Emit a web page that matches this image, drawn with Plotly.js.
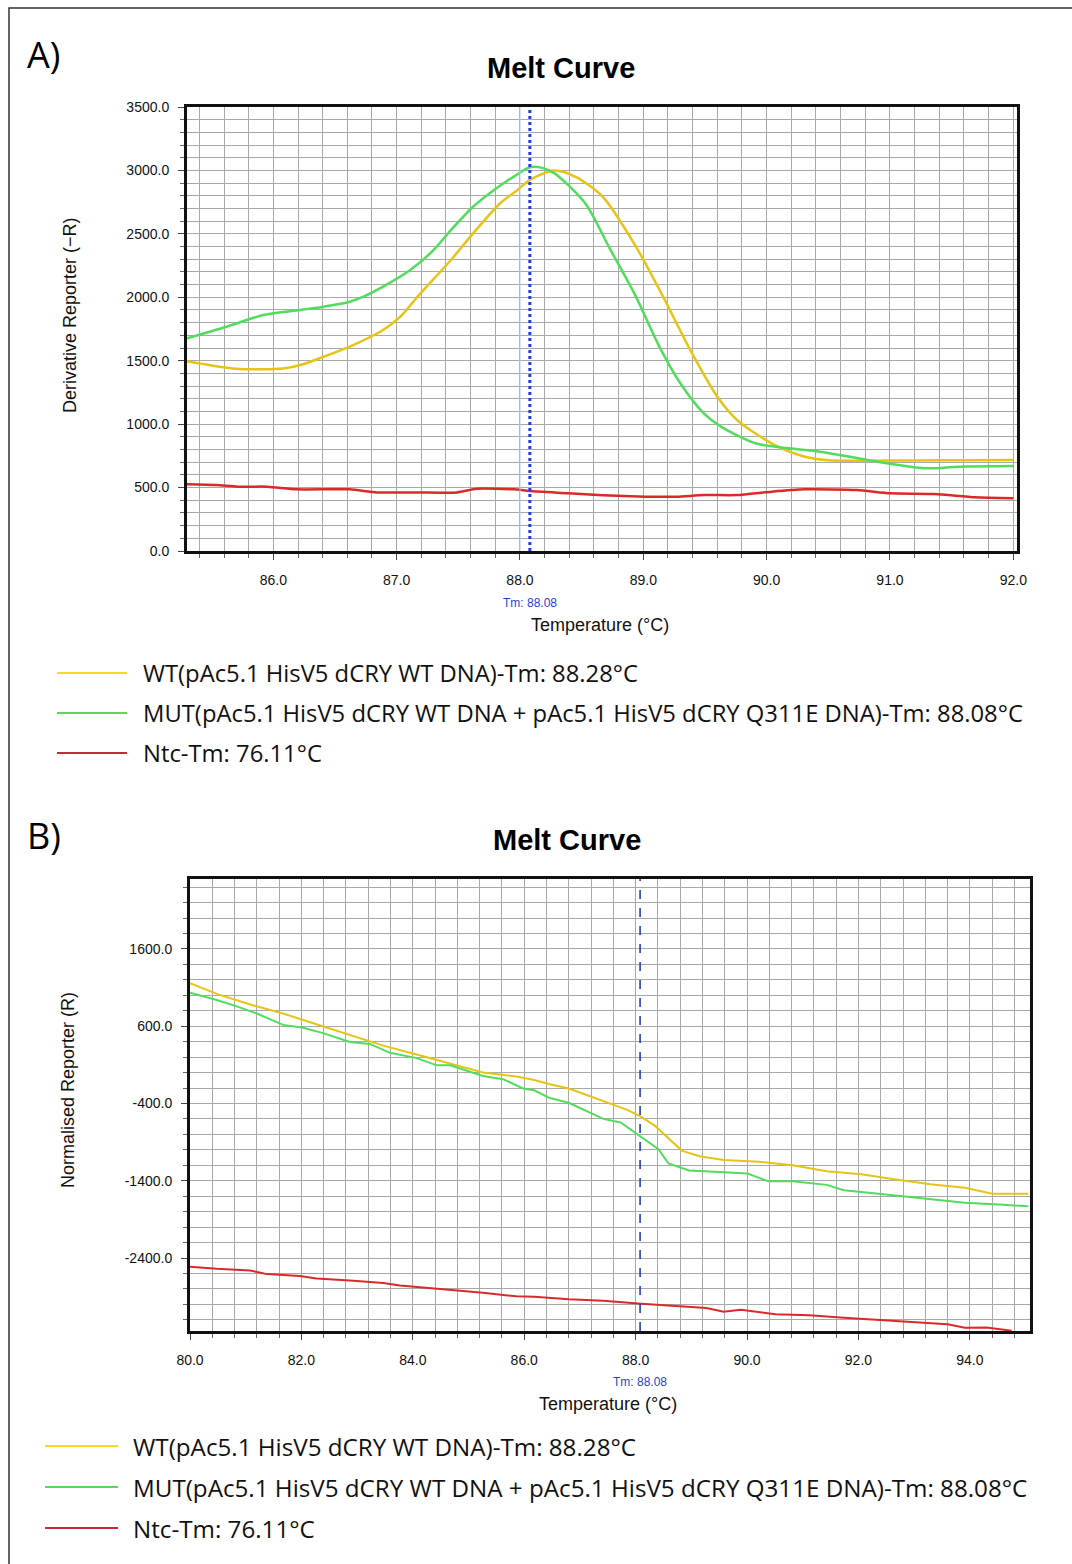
<!DOCTYPE html>
<html>
<head>
<meta charset="utf-8">
<script src="https://cdn.plot.ly/plotly-3.0.1.min.js"></script>
<style>
html,body{margin:0;padding:0;background:#fff;}
#chart{width:1072px;height:1564px;}
</style>
</head>
<body>
<div id="chart"></div>
<script>
// ---------- Panel A: derivative melt curve ----------
const aWtTemp  = [85.30,85.50,85.70,85.90,86.08,86.22,86.41,86.62,86.89,87.03,87.17,87.44,87.62,87.84,87.98,88.08,88.28,88.45,88.67,88.94,89.16,89.38,89.60,89.76,90.04,90.31,90.50,90.80,91.20,91.60,92.00];
const aWtVal   = [1495,1462,1436,1432,1438,1466,1532,1611,1742,1847,2005,2294,2504,2741,2846,2925,3000,2950,2793,2399,2005,1585,1216,1033,849,743,715,712,714,716,718];
const aMutTemp = [85.30,85.62,85.92,86.22,86.41,86.62,86.73,86.89,87.11,87.30,87.44,87.62,87.79,87.95,88.08,88.18,88.28,88.53,88.72,88.94,89.13,89.30,89.49,89.63,89.91,90.18,90.43,90.82,91.29,91.56,92.00];
const aMutVal  = [1677,1768,1860,1900,1926,1965,2005,2084,2215,2373,2530,2714,2846,2951,3025,3020,2977,2740,2399,2005,1611,1322,1085,980,849,810,783,717,652,665,670];
const aNtcTemp = [85.30,85.54,85.71,85.95,86.19,86.62,86.84,87.17,87.49,87.65,87.95,88.08,88.39,88.67,89.02,89.27,89.49,89.76,90.04,90.31,90.73,91.00,91.36,91.69,92.00];
const aNtcVal  = [526,520,507,507,486,486,462,462,462,491,486,472,455,439,428,428,441,441,468,486,481,455,449,423,415];
const aXTicks  = [86,87,88,89,90,91,92];
const aYTicks  = [0,500,1000,1500,2000,2500,3000,3500];

// ---------- Panel B: normalised reporter ----------
const bWtTemp  = [80.00,80.48,81.08,81.67,82.27,82.87,83.47,84.07,84.67,85.26,85.56,85.86,86.18,86.46,86.80,87.42,87.85,88.10,88.35,88.66,88.84,89.15,89.58,90.20,90.82,91.43,92.05,92.67,93.29,93.91,94.40,95.05];
const bWtVal   = [1158,1018,881,764,626,487,349,234,117,2,-25,-50,-95,-150,-206,-366,-483,-573,-690,-897,-1013,-1083,-1130,-1153,-1200,-1277,-1315,-1383,-1444,-1491,-1569,-1569];
const bMutTemp = [80.00,80.48,80.84,81.20,81.67,82.03,82.39,82.87,83.23,83.59,84.07,84.43,84.67,85.26,85.62,85.98,86.18,86.46,86.80,87.42,87.73,88.10,88.41,88.59,88.96,89.58,90.01,90.38,90.82,91.43,91.74,92.36,92.98,93.29,93.91,94.53,95.05];
const bMutVal  = [1032,940,857,764,617,579,511,396,371,256,187,94,94,-43,-85,-206,-229,-330,-391,-599,-645,-830,-991,-1176,-1268,-1291,-1306,-1407,-1407,-1453,-1523,-1569,-1615,-1639,-1685,-1707,-1730];
const bNtcTemp = [80.00,80.48,81.08,81.38,81.97,82.27,82.87,83.47,83.77,84.37,84.67,85.26,85.86,86.18,86.80,87.42,88.10,88.66,89.27,89.58,89.89,90.51,91.12,91.74,92.36,92.98,93.60,93.91,94.30,94.75];
const bNtcVal  = [-2514,-2540,-2562,-2608,-2631,-2664,-2691,-2724,-2756,-2793,-2806,-2850,-2895,-2900,-2932,-2954,-2992,-3015,-3047,-3094,-3070,-3126,-3140,-3173,-3200,-3233,-3256,-3303,-3300,-3340];
const bXTicks  = [80,82,84,86,88,90,92,94];
const bYTicks  = [-2400,-1400,-400,600,1600];

const tmLine = 88.08;
const legendLabels = [
  "WT(pAc5.1 HisV5 dCRY WT DNA)-Tm: 88.28°C",
  "MUT(pAc5.1 HisV5 dCRY WT DNA + pAc5.1 HisV5 dCRY Q311E DNA)-Tm: 88.08°C",
  "Ntc-Tm: 76.11°C"
];
const seriesColors = ["#e6c414","#52dc5e","#d92a2a"];
const legendColors = ["#f2dc1e","#5ed65e","#c8283a"];

// ---------- layout helpers ----------
const W = 1072, H = 1564;
const X = p => p / W;
const Y = p => 1 - p / H;

const traces = [
  {x:aWtTemp, y:aWtVal, xaxis:'x', yaxis:'y', mode:'lines', line:{color:seriesColors[0], width:2.5, shape:'spline', smoothing:0.8}},
  {x:aMutTemp, y:aMutVal, xaxis:'x', yaxis:'y', mode:'lines', line:{color:seriesColors[1], width:2.5, shape:'spline', smoothing:0.8}},
  {x:aNtcTemp, y:aNtcVal, xaxis:'x', yaxis:'y', mode:'lines', line:{color:seriesColors[2], width:2.5, shape:'spline', smoothing:0.6}},
  {x:bWtTemp, y:bWtVal, xaxis:'x2', yaxis:'y2', mode:'lines', line:{color:seriesColors[0], width:2}},
  {x:bMutTemp, y:bMutVal, xaxis:'x2', yaxis:'y2', mode:'lines', line:{color:seriesColors[1], width:2}},
  {x:bNtcTemp, y:bNtcVal, xaxis:'x2', yaxis:'y2', mode:'lines', line:{color:seriesColors[2], width:2}}
];

const tickFont = {family:'Liberation Sans, Arial, sans-serif', size:14, color:'#111'};
const gridCol = '#a8a8a8';
const fmt = v => v.toFixed(1);

function axis(domain, range, ticks, minorStep, anchor, standoff){
  return {
    domain: domain, range: range, anchor: anchor,
    tickmode:'array', tickvals: ticks, ticktext: ticks.map(fmt),
    ticks:'outside', ticklen:6, tickcolor:'#444', tickwidth:1,
    ticklabelstandoff: standoff,
    showgrid:true, gridcolor:gridCol, gridwidth:1,
    minor:{dtick:minorStep, tick0:ticks[0], showgrid:true, gridcolor:gridCol, gridwidth:1, ticks:'outside', ticklen:4, tickcolor:'#666'},
    showline:true, linecolor:'#111', linewidth:3, mirror:true,
    zeroline:false, tickfont:tickFont, fixedrange:true
  };
}

const annFont = 'Liberation Sans, Arial, sans-serif';
const legFont = 'Open Sans, Noto Sans, sans-serif';

const annotations = [
  {xref:'paper', yref:'paper', x:X(25), y:Y(55), xanchor:'left', yanchor:'middle', text:'A)', showarrow:false, font:{family:legFont, size:36, color:'#000'}},
  {xref:'paper', yref:'paper', x:X(25), y:Y(835), xanchor:'left', yanchor:'middle', text:'B)', showarrow:false, font:{family:legFont, size:36, color:'#000'}},
  {xref:'paper', yref:'paper', x:X(561), y:Y(68), xanchor:'center', yanchor:'middle', text:'<b>Melt Curve</b>', showarrow:false, font:{family:annFont, size:29, color:'#000'}},
  {xref:'paper', yref:'paper', x:X(567), y:Y(840), xanchor:'center', yanchor:'middle', text:'<b>Melt Curve</b>', showarrow:false, font:{family:annFont, size:29, color:'#000'}},
  {xref:'paper', yref:'paper', x:X(70), y:Y(315), xanchor:'center', yanchor:'middle', textangle:-90, text:'Derivative Reporter (−R)', showarrow:false, font:{family:annFont, size:18, color:'#111'}},
  {xref:'paper', yref:'paper', x:X(68), y:Y(1090), xanchor:'center', yanchor:'middle', textangle:-90, text:'Normalised Reporter (R)', showarrow:false, font:{family:annFont, size:18, color:'#111'}},
  {xref:'paper', yref:'paper', x:X(600), y:Y(625), xanchor:'center', yanchor:'middle', text:'Temperature (°C)', showarrow:false, font:{family:annFont, size:18, color:'#111'}},
  {xref:'paper', yref:'paper', x:X(608), y:Y(1404), xanchor:'center', yanchor:'middle', text:'Temperature (°C)', showarrow:false, font:{family:annFont, size:18, color:'#111'}},
  {xref:'x', yref:'paper', x:tmLine, y:Y(603), xanchor:'center', yanchor:'middle', text:'Tm: 88.08', showarrow:false, font:{family:annFont, size:12, color:'#1f3fd6'}},
  {xref:'x2', yref:'paper', x:tmLine, y:Y(1382), xanchor:'center', yanchor:'middle', text:'Tm: 88.08', showarrow:false, font:{family:annFont, size:12, color:'#1f3fd6'}}
];

const shapes = [
  // outer frame
  {type:'rect', xref:'paper', yref:'paper', x0:X(9), x1:X(1090), y0:Y(8), y1:Y(1600), line:{color:'#333', width:1.5}, fillcolor:'rgba(0,0,0,0)', layer:'below'},
  // faint bluish gridline at 88.0 (panel A)
  {type:'line', xref:'x', yref:'y domain', x0:88, x1:88, y0:0, y1:1, line:{color:'#b4c9ee', width:1}},
  // Tm lines
  {type:'line', xref:'x', yref:'y domain', x0:tmLine, x1:tmLine, y0:0, y1:1, line:{color:'#1e3ed8', width:3, dash:'dot'}},
  {type:'line', xref:'x2', yref:'y2 domain', x0:tmLine, x1:tmLine, y0:0, y1:1, line:{color:'#1a2fb8', width:1.5, dash:'dash'}}
];

// legends (drawn as line samples + text)
const legA = [673, 713, 753], legB = [1446, 1487, 1528];
legendLabels.forEach((lab, i) => {
  shapes.push({type:'line', xref:'paper', yref:'paper', x0:X(57), x1:X(127), y0:Y(legA[i]), y1:Y(legA[i]), line:{color:legendColors[i], width:2}});
  shapes.push({type:'line', xref:'paper', yref:'paper', x0:X(45), x1:X(118), y0:Y(legB[i]), y1:Y(legB[i]), line:{color:legendColors[i], width:2}});
  annotations.push({xref:'paper', yref:'paper', x:X(141), y:Y(legA[i]), xanchor:'left', yanchor:'middle', text:lab, showarrow:false, font:{family:legFont, size:23.8, color:'#111'}});
  annotations.push({xref:'paper', yref:'paper', x:X(131), y:Y(legB[i]), xanchor:'left', yanchor:'middle', text:lab, showarrow:false, font:{family:legFont, size:24.2, color:'#111'}});
});

const layout = {
  width: W, height: H,
  margin:{l:0, r:0, t:0, b:0},
  paper_bgcolor:'#fff', plot_bgcolor:'#fff',
  showlegend:false,
  xaxis: axis([X(187), X(1017)], [85.30, 92.03], aXTicks, 0.2, 'y', 8),
  yaxis: axis([Y(551), Y(107)], [0, 3500], aYTicks, 100, 'x', 6),
  xaxis2: axis([X(190), X(1030)], [80, 95.08], bXTicks, 0.4, 'y2', 8),
  yaxis2: axis([Y(1331), Y(879)], [-3344, 2505], bYTicks, 200, 'x2', 6),
  annotations: annotations,
  shapes: shapes
};

Plotly.newPlot('chart', traces, layout, {displayModeBar:false, staticPlot:true});
</script>
</body>
</html>
